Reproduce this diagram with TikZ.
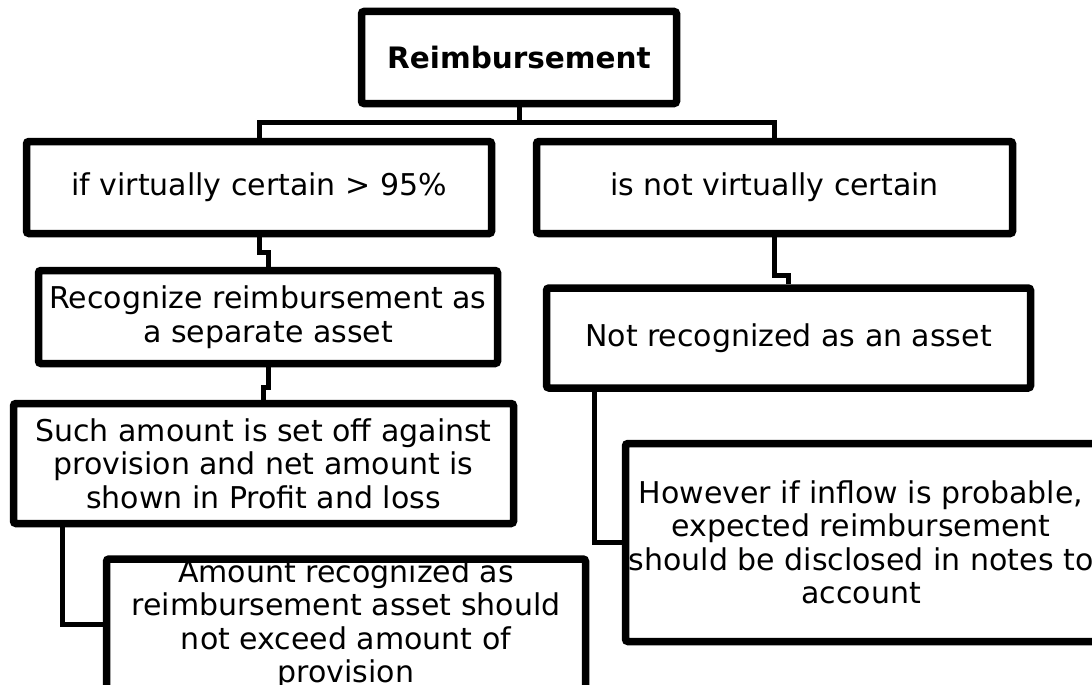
\documentclass[tikz,border=0pt]{standalone}
\usepackage{fontspec}
\setmainfont{DejaVu Sans}
\usetikzlibrary{shadows}
\begin{document}
\begin{tikzpicture}[x=1pt,y=-1pt,
  box/.style={draw=black, line width=7.5pt, rounded corners=2.5pt, fill=white,
    inner sep=0pt, align=center, font=\fontsize{30}{33.5}\selectfont,
    drop shadow={shadow xshift=2.5pt, shadow yshift=-2.5pt, opacity=0.22, fill=black}},
  link/.style={draw=black, line width=5pt}]
\useasboundingbox (0,0) rectangle (1092,685);
\clip (0,0) rectangle (1092,685);

\node[box, minimum width=315pt, minimum height=92pt,
  font=\bfseries\fontsize{29.5}{33}\selectfont] (top) at (519,57.5) {Reimbursement};
\node[box, minimum width=465pt, minimum height=92pt] (l2l) at (259,187.5)
  {if virtually certain > 95\%};
\node[box, minimum width=476pt, minimum height=92pt] (l2r) at (774.5,187.5)
  {is not virtually certain};
\node[box, minimum width=459pt, minimum height=93pt] (l3l) at (268,317)
  {Recognize reimbursement as\\a separate asset};
\node[box, minimum width=484pt, minimum height=100pt] (l3r) at (788.5,338)
  {Not recognized as an asset};
\node[box, minimum width=500pt, minimum height=120pt] (l4l) at (263.5,463.5)
  {Such amount is set off against\\provision and net amount is\\shown in Profit and loss};
\node[box, minimum width=479pt, minimum height=130pt] (l5l) at (346,624)
  {Amount recognized as\\reimbursement asset should\\not exceed amount of\\provision};
\node[box, minimum width=471pt, minimum height=198pt] (hw) at (861,542.5)
  {However if inflow is probable,\\expected reimbursement\\should be disclosed in notes to\\account};

\draw[link] (top.south) -- ++(0,15.5) -| (l2l.north);
\draw[link] (top.south) -- ++(0,15.5) -| (l2r.north);
\draw[link] (l2l.south) -- ++(0,15) -| (l3l.north);
\draw[link] (l3l.south) -- ++(0,20) -| (l4l.north);
\draw[link] (l2r.south) -- ++(0,38) -| (l3r.north);
\draw[link] (l4l.south west) ++(53,0) |- (l5l.west);
\draw[link] (l3r.south west) ++(52,0) |- (hw.west);
\end{tikzpicture}
\end{document}
